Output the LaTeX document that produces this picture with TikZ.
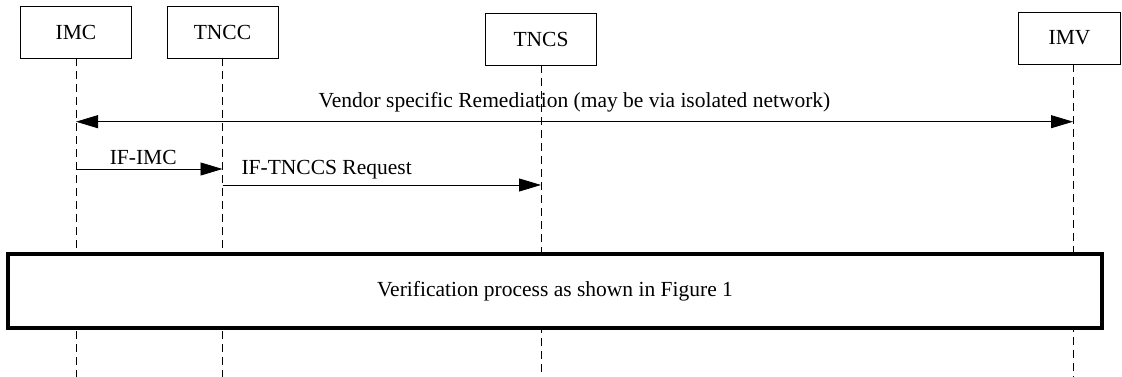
\documentclass[tikz,border=0pt]{standalone}
\usepackage{fontspec}
\setmainfont{Liberation Serif}
\usetikzlibrary{arrows.meta}
\begin{document}
\begin{tikzpicture}[x=1pt,y=-1pt,
  font=\fontsize{21.5}{25}\selectfont,
  actor/.style={draw, line width=0.8pt, minimum width=111pt, minimum height=52pt, inner sep=0pt},
  life/.style={line width=0.8pt, dash pattern=on 8pt off 5pt},
  msg/.style={line width=0.8pt, -{Triangle[length=22pt,width=13pt]}},
  bmsg/.style={line width=0.8pt, {Triangle[length=22pt,width=13pt]}-{Triangle[length=22pt,width=13pt]}},
  frame/.style={draw, line width=3.5pt, minimum width=1094pt, minimum height=74pt, inner sep=0pt}]
\useasboundingbox (0,0) rectangle (1122,377);
\node[actor] (imc) at (76,32) {IMC};
\node[actor] (tncc) at (222.5,32) {TNCC};
\node[actor] (tncs) at (541,39) {TNCS};
\node[actor, minimum width=102.5pt] (imv) at (1069.5,38) {IMV};
\coordinate (bot) at (0,377);
\coordinate (xv) at (1073,0);
\coordinate (yrem) at (0,121.7);
\coordinate (yimc) at (0,169);
\coordinate (ytnccs) at (0,185);
\foreach \n in {imc,tncc,tncs}{\draw[life] (\n.south) -- (\n.south |- bot);}
\draw[life] (xv |- imv.south) -- (xv |- bot);
\draw[bmsg] (imc |- yrem) -- node[above=6pt]{Vendor specific Remediation (may be via isolated network)} (xv |- yrem);
\draw[msg] (imc |- yimc) -- node[above=1pt, xshift=-6pt]{IF-IMC} (tncc |- yimc);
\draw[msg] (tncc |- ytnccs) -- (tncs |- ytnccs);
\node[anchor=west] (lreq) at (238,170) {IF-TNCCS Request};
\node[frame, fill=white] (ver) at (555,291) {Verification process as shown in Figure 1};
\end{tikzpicture}
\end{document}
